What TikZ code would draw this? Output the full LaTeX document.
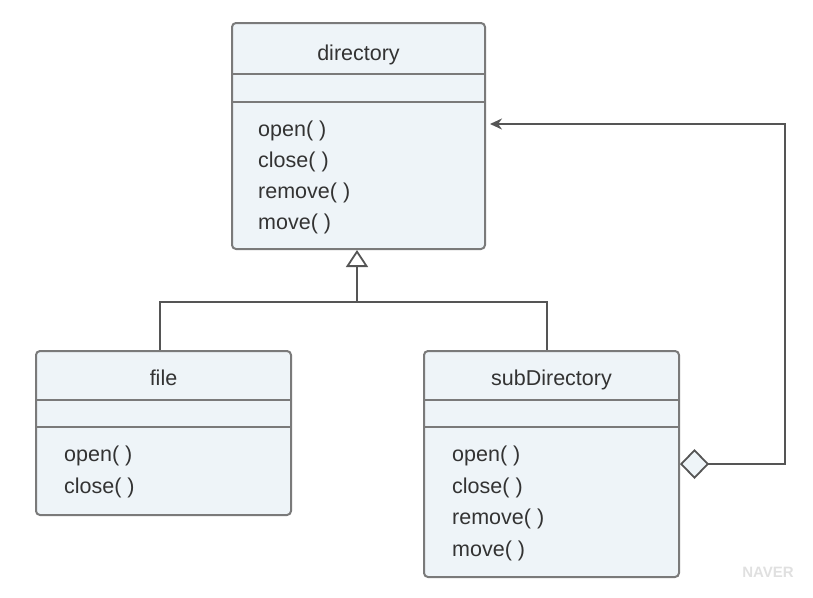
\documentclass[tikz,border=0pt]{standalone}
\usepackage{fontspec}
\setmainfont{Liberation Sans}
\usetikzlibrary{arrows.meta,positioning,calc}
\definecolor{classfill}{HTML}{EEF4F8}
\definecolor{classline}{HTML}{7A7A7A}
\definecolor{wireline}{HTML}{555555}
\definecolor{classtext}{HTML}{333333}
\begin{document}
\begin{tikzpicture}[x=1pt,y=-1pt,
    classbox/.style={draw=classline, fill=classfill, line width=2pt, rounded corners=4pt, inner sep=0pt},
    classname/.style={font=\fontsize{21.5}{24}\selectfont, text=classtext, anchor=base, inner sep=0pt},
    method/.style={font=\fontsize{21.5}{24}\selectfont, text=classtext, anchor=base west, inner sep=0pt},
    divider/.style={draw=classline, line width=2pt},
    wire/.style={draw=wireline, line width=1.8pt}]
  \useasboundingbox (0,0) rectangle (813,597);

  % Define the three class boxes
  \node[classbox, minimum width=253pt, minimum height=226pt] (dir) at (358.5,136) {};
  \node[classbox, minimum width=255pt, minimum height=164pt] (file) at (163.5,433) {};
  \node[classbox, minimum width=255pt, minimum height=226pt] (sub) at (551.5,464) {};

  % Compartment lines
  \draw[divider] ([yshift=-52pt]dir.north west) -- ([yshift=-52pt]dir.north east);
  \draw[divider] ([yshift=-80pt]dir.north west) -- ([yshift=-80pt]dir.north east);
  \foreach \c in {file,sub} {
    \draw[divider] ([yshift=-50pt]\c.north west) -- ([yshift=-50pt]\c.north east);
    \draw[divider] ([yshift=-77pt]\c.north west) -- ([yshift=-77pt]\c.north east);
  }

  % Class names
  \node[classname] (dirname) at ([yshift=-38pt]dir.north) {directory};
  \node[classname] (filename) at ([yshift=-35pt]file.north) {file};
  \node[classname] (subname) at ([yshift=-35pt]sub.north) {subDirectory};

  % Operations
  \foreach \m [count=\i] in {{open( )},{close( )},{remove( )},{move( )}}
    \node[method] (dirop\i) at ($(dir.north west)+(27,83+31*\i)$) {\m};
  \foreach \m [count=\i] in {{open( )},{close( )}}
    \node[method] (fileop\i) at ($(file.north west)+(29,80+31.5*\i)$) {\m};
  \foreach \m [count=\i] in {{open( )},{close( )},{remove( )},{move( )}}
    \node[method] (subop\i) at ($(sub.north west)+(29,80+31.5*\i)$) {\m};

  % Generalization
  \coordinate (split) at ([xshift=-1.5pt, yshift=-52pt]dir.south);
  \coordinate (tip) at ([xshift=-1.5pt]dir.south);
  \draw[wire] ([xshift=-3.5pt]file.north) |- (split) -| ([xshift=-4.5pt]sub.north);
  \draw[wire, -{Triangle[open, length=17pt, width=22pt, fill=white]}] (split) -- (tip);

  % Aggregation back to directory
  \draw[wire, {Diamond[open, length=29pt, width=30pt, fill=classfill]}-{Stealth[length=12pt, width=11pt]}]
    (sub.east) -- ++(105,0) |- ([xshift=4pt, yshift=12pt]dir.east);

  % Watermark
  \node[text=black!12, font=\bfseries\fontsize{15}{15}\selectfont] (mark) at (768,572) {NAVER};
\end{tikzpicture}
\end{document}
